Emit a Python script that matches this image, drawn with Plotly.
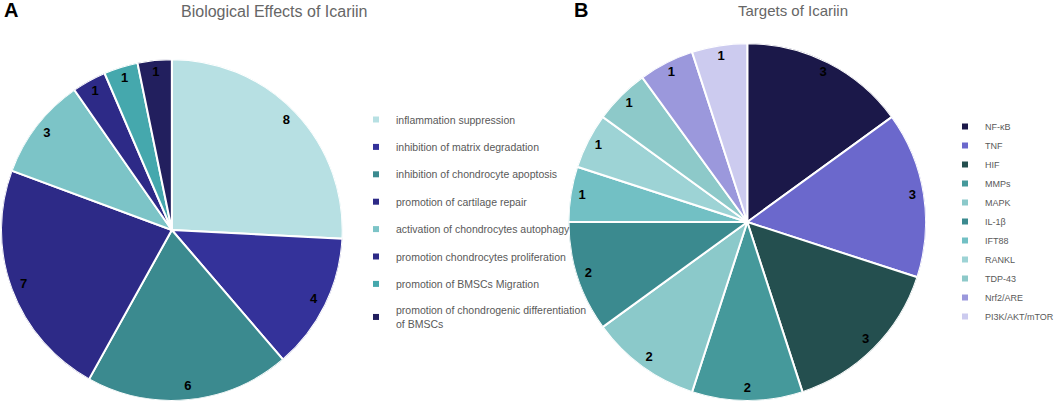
import numpy as np
import plotly.graph_objects as go

# ---------------- data ----------------
effects_labels = [
    "inflammation suppression",
    "inhibition of matrix degradation",
    "inhibition of chondrocyte apoptosis",
    "promotion of cartilage repair",
    "activation of chondrocytes autophagy",
    "promotion chondrocytes proliferation",
    "promotion of BMSCs Migration",
    "promotion of chondrogenic differentiation<br>of BMSCs",
]
effects_values = [8, 4, 6, 7, 3, 1, 1, 1]
effects_colors = ["#b7e0e3", "#34329a", "#3b8a8f", "#2d2a87",
                  "#7cc4c7", "#2d2a87", "#45a8ad", "#221f5e"]

targets_labels = ["NF-κB", "TNF", "HIF", "MMPs", "MAPK", "IL-1β",
                  "IFT88", "RANKL", "TDP-43", "Nrf2/ARE", "PI3K/AKT/mTOR"]
targets_values = [3, 3, 3, 2, 2, 2, 1, 1, 1, 1, 1]
targets_colors = ["#1b1849", "#6b68cc", "#244f4f", "#45999b", "#8bc9ca",
                  "#3b8a8f", "#72c0c4", "#9dd3d5", "#8dc9c9", "#9b98dc", "#cccbef"]

title_a = "Biological Effects of Icariin"
title_b = "Targets of Icariin"

# ---------------- layout helpers ----------------
W, H = 1059, 402
FONT = "Liberation Sans, Arial, sans-serif"


def dom(x0, x1, y0, y1):
    return dict(x=[x0 / W, x1 / W], y=[1 - y1 / H, 1 - y0 / H])


def py(y):
    return 1 - y / H


domA = dom(1, 343, 59, 401)
domB = dom(569, 927, 43, 401)


def slice_geometry(vals):
    v = np.array(vals, dtype=float)
    c = np.cumsum(v)
    widths = v / v.sum() * 360
    mids = (c - v / 2) / v.sum() * 360
    return list(mids), list(widths)


fig = go.Figure()


def add_pie(subplot, labels, values, colors, label_r):
    mids, widths = slice_geometry(values)
    hover = [l.replace("<br>", " ") for l in labels]
    fig.add_trace(go.Barpolar(subplot=subplot, r=[1] * len(values), theta=mids,
                              width=widths, base=0,
                              marker=dict(color=colors, line=dict(color="white", width=2)),
                              customdata=values, hovertext=hover,
                              hovertemplate="%{hovertext}: %{customdata}<extra></extra>",
                              showlegend=False))
    fig.add_trace(go.Scatterpolar(subplot=subplot, r=[label_r] * len(values),
                                  theta=mids, mode="text",
                                  text=[f"<b>{v}</b>" for v in values],
                                  textfont=dict(size=13, color="black", family=FONT),
                                  showlegend=False, hoverinfo="skip"))


add_pie("polar", effects_labels, effects_values, effects_colors, 0.925)
add_pie("polar2", targets_labels, targets_values, targets_colors, 0.935)

# legend entries
for i, (lab, col) in enumerate(zip(effects_labels, effects_colors)):
    fig.add_trace(go.Scatter(x=[None], y=[None], mode="markers", name=lab,
                             marker=dict(symbol="square", size=6, color=col),
                             legend="legend", legendgroup=f"a{i}"))
for i, (lab, col) in enumerate(zip(targets_labels, targets_colors)):
    fig.add_trace(go.Scatter(x=[None], y=[None], mode="markers", name=lab,
                             marker=dict(symbol="square", size=6, color=col),
                             legend="legend2"))

polar_common = dict(bgcolor="rgba(0,0,0,0)", bargap=0,
                    radialaxis=dict(visible=False, range=[0, 1], showgrid=False),
                    angularaxis=dict(visible=False, rotation=90, direction="clockwise",
                                     showgrid=False))

fig.update_layout(
    width=W, height=H,
    margin=dict(l=0, r=0, t=0, b=0),
    paper_bgcolor="white", plot_bgcolor="white",
    font=dict(family=FONT),
    xaxis=dict(visible=False), yaxis=dict(visible=False),
    polar=dict(domain=domA, **polar_common),
    polar2=dict(domain=domB, **polar_common),
    legend=dict(x=356 / W, y=py(105), xanchor="left", yanchor="top",
                font=dict(size=10.5, color="#595959", family=FONT),
                tracegroupgap=8.4, bgcolor="rgba(0,0,0,0)"),
    legend2=dict(x=946 / W, y=py(112), xanchor="left", yanchor="top",
                 font=dict(size=9, color="#595959", family=FONT),
                 bgcolor="rgba(0,0,0,0)"),
    annotations=[
        dict(text=title_a, x=274 / W, y=py(12), xref="paper", yref="paper",
             xanchor="center", yanchor="middle", showarrow=False,
             font=dict(size=16, color="#666666", family=FONT)),
        dict(text=title_b, x=794 / W, y=py(10), xref="paper", yref="paper",
             xanchor="center", yanchor="middle", showarrow=False,
             font=dict(size=15, color="#666666", family=FONT)),
        dict(text="<b>A</b>", x=2 / W, y=py(10), xref="paper", yref="paper",
             xanchor="left", yanchor="middle", showarrow=False,
             font=dict(size=20, color="black", family=FONT)),
        dict(text="<b>B</b>", x=573 / W, y=py(10), xref="paper", yref="paper",
             xanchor="left", yanchor="middle", showarrow=False,
             font=dict(size=20, color="black", family=FONT)),
    ],
)

fig.write_html("out.html", config={"displayModeBar": False},
               post_script="document.body.style.margin='0';document.body.style.padding='0';")
